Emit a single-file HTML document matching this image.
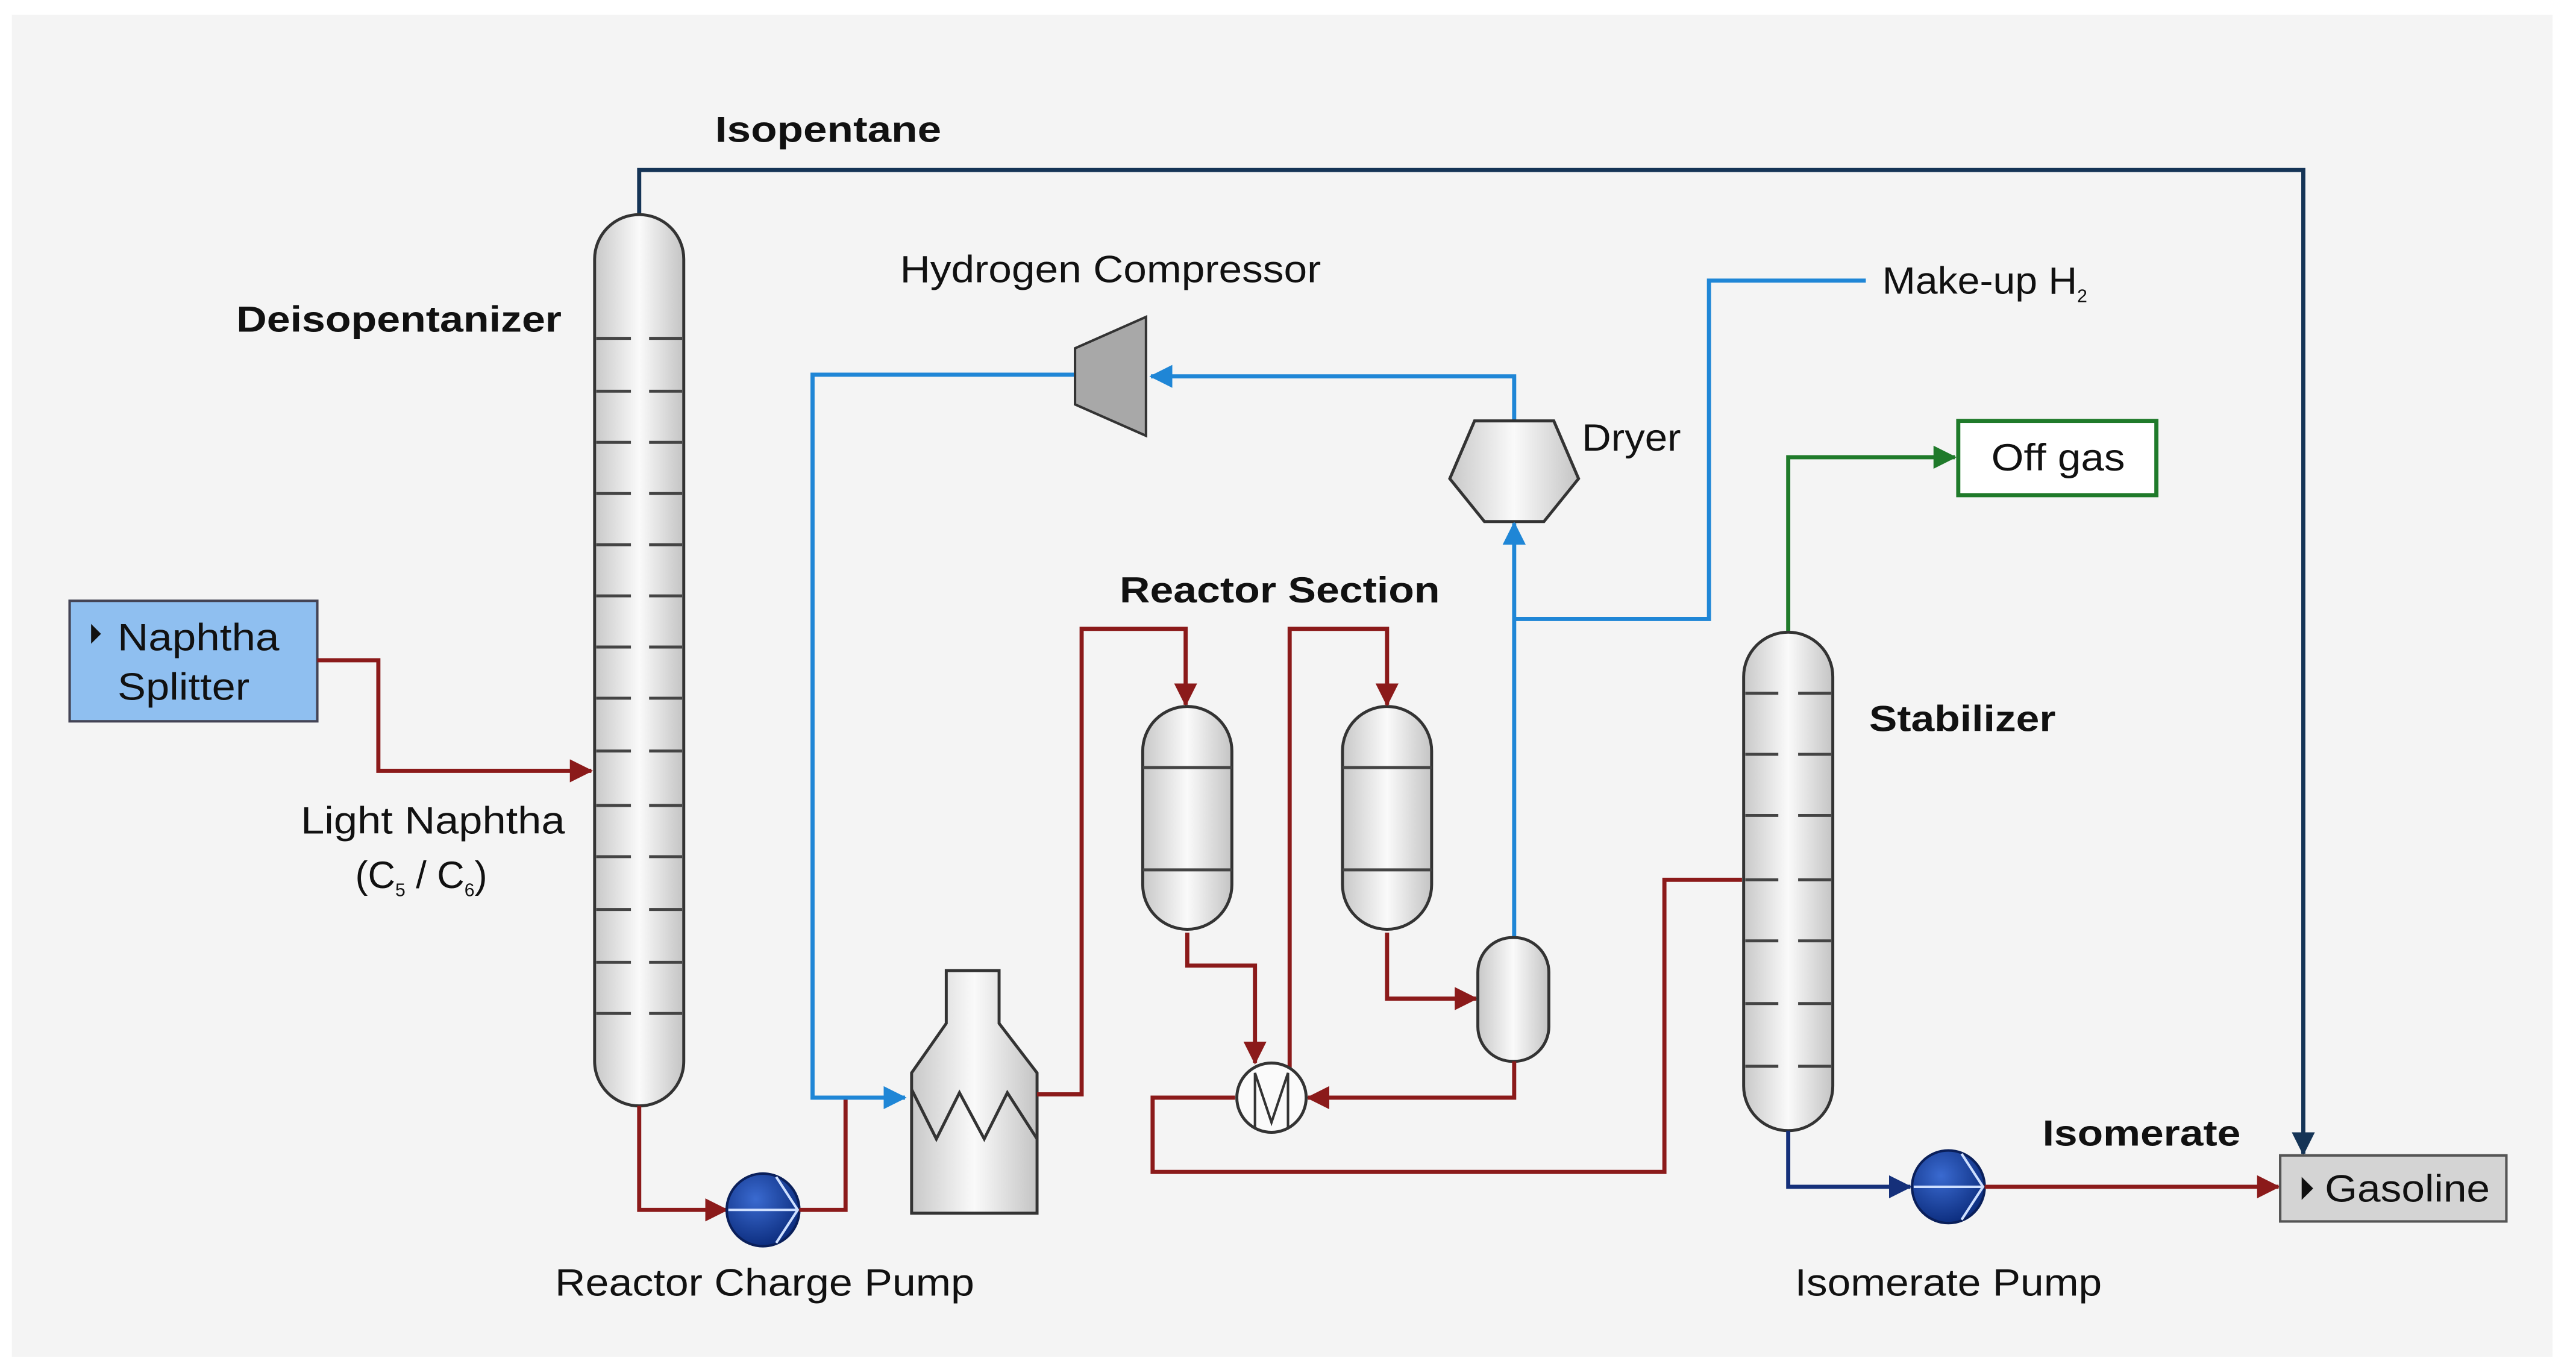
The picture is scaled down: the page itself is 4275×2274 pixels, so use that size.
<!DOCTYPE html>
<html><head><meta charset="utf-8"><style>
html,body{margin:0;padding:0;background:#fff;}
svg{display:block;}
text{font-family:"Liberation Sans",sans-serif;fill:#111;}
.b{font-weight:bold;}
</style></head><body>
<svg width="4275" height="2274" viewBox="0 0 1560 830" xmlns="http://www.w3.org/2000/svg">
<defs>
<linearGradient id="cyl" x1="0" x2="1" y1="0" y2="0">
<stop offset="0" stop-color="#c8c8c8"/><stop offset="0.5" stop-color="#fafafa"/><stop offset="1" stop-color="#c4c4c4"/>
</linearGradient>
<radialGradient id="pump" cx="0.4" cy="0.35" r="0.7">
<stop offset="0" stop-color="#3a6ad0"/><stop offset="1" stop-color="#0a2a7a"/>
</radialGradient>
<marker id="ar" markerWidth="14" markerHeight="14" refX="13" refY="7" orient="auto" markerUnits="userSpaceOnUse"><path d="M0,0 L14,7 L0,14z" fill="#8b1a1a"/></marker>
<marker id="ab" markerWidth="14" markerHeight="14" refX="13" refY="7" orient="auto" markerUnits="userSpaceOnUse"><path d="M0,0 L14,7 L0,14z" fill="#1f86d6"/></marker>
<marker id="an" markerWidth="14" markerHeight="14" refX="13" refY="7" orient="auto" markerUnits="userSpaceOnUse"><path d="M0,0 L14,7 L0,14z" fill="#153456"/></marker>
<marker id="ad" markerWidth="14" markerHeight="14" refX="13" refY="7" orient="auto" markerUnits="userSpaceOnUse"><path d="M0,0 L14,7 L0,14z" fill="#15307a"/></marker>
<marker id="ag" markerWidth="14" markerHeight="14" refX="13" refY="7" orient="auto" markerUnits="userSpaceOnUse"><path d="M0,0 L14,7 L0,14z" fill="#1f7a2a"/></marker>
</defs>
<rect x="7" y="9" width="1539" height="813" fill="#f4f4f4"/>

<polyline points="387,130 387,103 1395,103 1395,699" fill="none" stroke="#153456" stroke-width="2.5" marker-end="url(#an)"/>
<text x="433" y="86" class="b" font-size="22" textLength="137" lengthAdjust="spacingAndGlyphs">Isopentane</text>

<rect x="360" y="130" width="54" height="540" rx="27" fill="url(#cyl)" stroke="#333" stroke-width="1.8"/>
<g stroke="#444" stroke-width="1.8">
<path d="M361,205h21M393,205h20M361,237h21M393,237h20M361,268h21M393,268h20M361,299h21M393,299h20M361,330h21M393,330h20M361,361h21M393,361h20M361,392h21M393,392h20M361,423h21M393,423h20M361,455h21M393,455h20M361,488h21M393,488h20M361,519h21M393,519h20M361,551h21M393,551h20M361,583h21M393,583h20M361,614h21M393,614h20"/>
</g>
<text x="143" y="201" class="b" font-size="22" textLength="197" lengthAdjust="spacingAndGlyphs">Deisopentanizer</text>

<rect x="42" y="364" width="150" height="73" fill="#8fbff0" stroke="#445" stroke-width="1.5"/>
<path d="M55,378 l6,6 l-6,6z" fill="#111"/>
<text x="71" y="394" font-size="23" textLength="98" lengthAdjust="spacingAndGlyphs">Naphtha</text>
<text x="71" y="424" font-size="23" textLength="80" lengthAdjust="spacingAndGlyphs">Splitter</text>
<polyline points="192,400 229,400 229,467 358,467" fill="none" stroke="#8b1a1a" stroke-width="2.5" marker-end="url(#ar)"/>
<text x="182" y="505" font-size="23" textLength="160" lengthAdjust="spacingAndGlyphs">Light Naphtha</text>
<text x="215" y="538" font-size="23">(C<tspan font-size="11" dy="5">5</tspan><tspan dy="-5"> / C</tspan><tspan font-size="11" dy="5">6</tspan><tspan dy="-5">)</tspan></text>

<polyline points="387,670 387,733 440,733" fill="none" stroke="#8b1a1a" stroke-width="2.5" marker-end="url(#ar)"/>
<circle cx="462" cy="733" r="22" fill="url(#pump)" stroke="#0a1f5a" stroke-width="1.5"/>
<path d="M441,733h42M470,713 l13,20 l-13,20" stroke="#cfe0ff" stroke-width="1.5" fill="none"/>
<text x="336" y="785" font-size="23" textLength="254" lengthAdjust="spacingAndGlyphs">Reactor Charge Pump</text>
<polyline points="484,733 512,733 512,665" fill="none" stroke="#8b1a1a" stroke-width="2.5"/>

<polyline points="651,227 492,227 492,665 548,665" fill="none" stroke="#1f86d6" stroke-width="2.5" marker-end="url(#ab)"/>
<polygon points="651,211 694,192 694,264 651,245" fill="#a8a8a8" stroke="#333" stroke-width="1.5"/>
<text x="545" y="171" font-size="23" textLength="255" lengthAdjust="spacingAndGlyphs">Hydrogen Compressor</text>
<polyline points="917,255 917,228 697,228" fill="none" stroke="#1f86d6" stroke-width="2.5" marker-end="url(#ab)"/>

<polygon points="893,255 941,255 956,290 935,316 899,316 878,290" fill="url(#cyl)" stroke="#333" stroke-width="1.8"/>
<text x="958" y="273" font-size="23" textLength="60" lengthAdjust="spacingAndGlyphs">Dryer</text>
<polyline points="917,568 917,317" fill="none" stroke="#1f86d6" stroke-width="2.5" marker-end="url(#ab)"/>
<polyline points="917,375 1035,375 1035,170 1130,170" fill="none" stroke="#1f86d6" stroke-width="2.5"/>
<text x="1140" y="178" font-size="23"><tspan textLength="118" lengthAdjust="spacingAndGlyphs">Make-up H</tspan><tspan font-size="11" dy="5">2</tspan></text>

<path d="M573,588 h32 v32 l23,30 v85 h-76 v-85 l21,-30z" fill="url(#cyl)" stroke="#333" stroke-width="1.8"/>
<polyline points="552,660 567,690 581,662 596,690 610,662 628,690" fill="none" stroke="#333" stroke-width="1.8"/>
<polyline points="628,663 655,663 655,381 718,381 718,427" fill="none" stroke="#8b1a1a" stroke-width="2.5" marker-end="url(#ar)"/>
<text x="678" y="365" class="b" font-size="22" textLength="194" lengthAdjust="spacingAndGlyphs">Reactor Section</text>

<rect x="692" y="428" width="54" height="135" rx="27" fill="url(#cyl)" stroke="#333" stroke-width="1.8"/>
<path d="M692,465h54M692,527h54" stroke="#444" stroke-width="1.8"/>
<rect x="813" y="428" width="54" height="135" rx="27" fill="url(#cyl)" stroke="#333" stroke-width="1.8"/>
<path d="M813,465h54M813,527h54" stroke="#444" stroke-width="1.8"/>
<polyline points="719,565 719,585 760,585 760,644" fill="none" stroke="#8b1a1a" stroke-width="2.5" marker-end="url(#ar)"/>
<polyline points="781,647 781,381 840,381 840,427" fill="none" stroke="#8b1a1a" stroke-width="2.5" marker-end="url(#ar)"/>
<polyline points="840,565 840,605 894,605" fill="none" stroke="#8b1a1a" stroke-width="2.5" marker-end="url(#ar)"/>

<rect x="895" y="568" width="43" height="75" rx="21" fill="url(#cyl)" stroke="#333" stroke-width="1.8"/>
<polyline points="917,643 917,665 792,665" fill="none" stroke="#8b1a1a" stroke-width="2.5" marker-end="url(#ar)"/>

<polyline points="748,665 698,665 698,710 1008,710 1008,533 1055,533" fill="none" stroke="#8b1a1a" stroke-width="2.5"/>
<circle cx="770" cy="665" r="21" fill="#fafafa" stroke="#333" stroke-width="1.8"/>
<polyline points="760,684 760,650 770,680 780,650 780,684" fill="none" stroke="#333" stroke-width="1.5"/>

<polyline points="1083,383 1083,277 1184,277" fill="none" stroke="#1f7a2a" stroke-width="2.5" marker-end="url(#ag)"/>
<rect x="1186" y="255" width="120" height="45" fill="#fff" stroke="#1f7a2a" stroke-width="2.5"/>
<text x="1206" y="285" font-size="23" textLength="81" lengthAdjust="spacingAndGlyphs">Off gas</text>
<rect x="1056" y="383" width="54" height="302" rx="27" fill="url(#cyl)" stroke="#333" stroke-width="1.8"/>
<g stroke="#444" stroke-width="1.8">
<path d="M1057,420h20M1089,420h20M1057,457h20M1089,457h20M1057,494h20M1089,494h20M1057,533h20M1089,533h20M1057,570h20M1089,570h20M1057,608h20M1089,608h20M1057,646h20M1089,646h20"/>
</g>
<text x="1132" y="443" class="b" font-size="22" textLength="113" lengthAdjust="spacingAndGlyphs">Stabilizer</text>

<polyline points="1083,685 1083,719 1157,719" fill="none" stroke="#15307a" stroke-width="2.5" marker-end="url(#ad)"/>
<circle cx="1180" cy="719" r="22" fill="url(#pump)" stroke="#0a1f5a" stroke-width="1.5"/>
<path d="M1159,719h42M1188,699 l13,20 l-13,20" stroke="#cfe0ff" stroke-width="1.5" fill="none"/>
<polyline points="1202,719 1380,719" fill="none" stroke="#8b1a1a" stroke-width="2.5" marker-end="url(#ar)"/>
<text x="1237" y="694" class="b" font-size="22" textLength="120" lengthAdjust="spacingAndGlyphs">Isomerate</text>
<text x="1087" y="785" font-size="23" textLength="186" lengthAdjust="spacingAndGlyphs">Isomerate Pump</text>

<rect x="1381" y="700" width="137" height="40" fill="#d4d4d4" stroke="#555" stroke-width="1.5"/>
<path d="M1394,713 l7,7 l-7,7z" fill="#111"/>
<text x="1408" y="728" font-size="23" textLength="100" lengthAdjust="spacingAndGlyphs">Gasoline</text>
</svg>
</body></html>
